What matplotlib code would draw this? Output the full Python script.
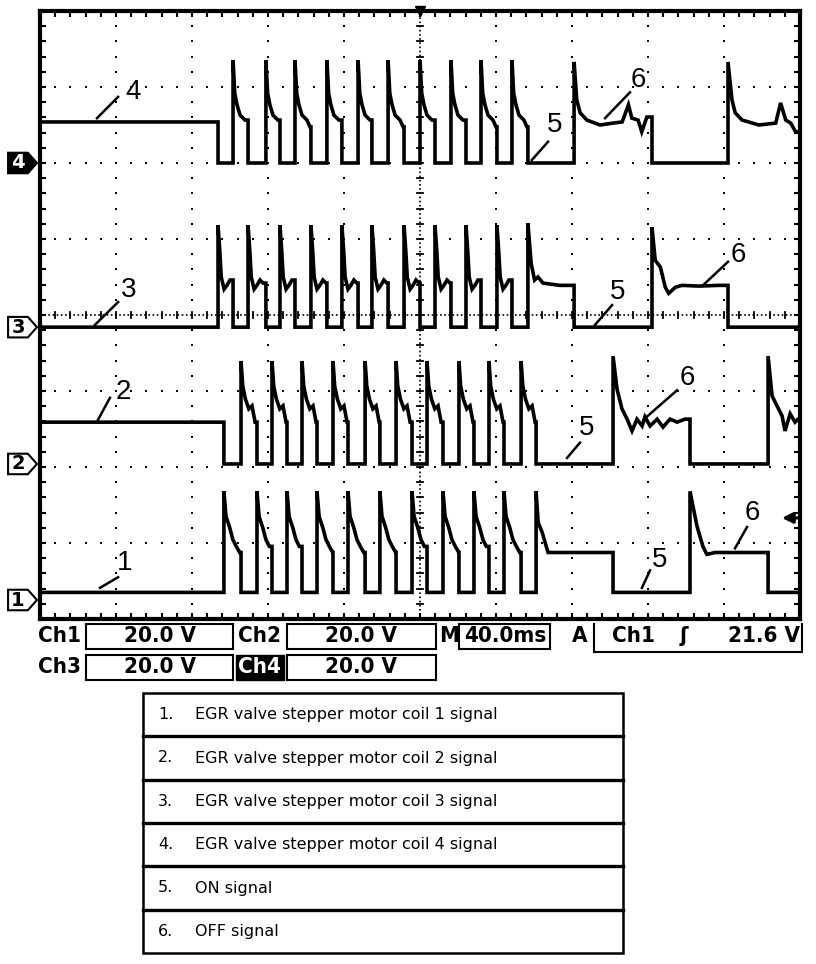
import matplotlib
matplotlib.use("Agg")
import matplotlib.pyplot as plt
from matplotlib.patches import Polygon, Rectangle
from matplotlib.transforms import blended_transform_factory

# scope settings: 40 ms/div over 10 div, 20 V/div over 8 div
MS_PER_DIV = 40.0
V_PER_DIV = 20.0

# edge times (ms); coils 3/4 and 1/2 switch in antiphase
coil34_edges = [93.7, 101.6, 109.5, 118.9, 126.3, 134.2, 142.6, 151.0, 158.9, 167.4,
                174.7, 183.2, 191.6, 200.0, 207.9, 216.3, 224.2, 232.1, 240.5, 248.4,
                256.8, 281.1, 322.1, 362.1]
coil12_edges = [96.8, 105.8, 114.2, 122.1, 130.0, 137.9, 145.8, 154.2, 162.1, 171.1,
                178.9, 187.4, 195.8, 203.7, 212.1, 220.5, 228.4, 236.3, 244.2, 253.2,
                261.1, 301.6, 342.1, 383.2]

# ground reference marker of every channel (divisions from bottom)
ground_div = {"1": 0.25, "2": 2.04, "3": 3.84, "4": 6.0}
low_volts = {"1": 2.0, "2": 0.0, "3": 0.0, "4": 0.0}
start_high = {"1": False, "2": True, "3": False, "4": True}
start_volts = {"1": 0.0, "2": 11.0, "3": 0.0, "4": 10.8}

# shape after a rising edge: (ms after edge, volts above low level)
pulse4 = [(0, 27.1), (0.9, 18.4), (2.1, 15.3), (3.7, 12.6), (6.3, 11.3), (7.9, 9.5)]
pulse3 = [(0, 26.8), (0.9, 20.3), (1.7, 13.2), (3.2, 10.0), (4.7, 11.0), (6.3, 12.4), (7.9, 11.6)]
pulse2 = [(0, 27.1), (0.9, 20.5), (2.3, 17.1), (4.1, 14.5), (5.8, 15.3), (7.4, 11.0)]
pulse1 = [(0, 26.6), (1.1, 20.0), (3.0, 17.1), (4.7, 13.9), (6.5, 12.1), (8.3, 10.5)]

off4_a = [(0, 26.6), (1.4, 16.6), (3.2, 13.2), (6.7, 11.3), (13.7, 10.0), (20.5, 10.5),
          (25.3, 10.8), (28.6, 15.3), (30.4, 11.8), (33.7, 11.3), (35.6, 8.2),
          (38.3, 12.1), (41.0, 11.3)]
off4_b = [(0, 26.6), (2.1, 16.6), (3.8, 13.2), (7.4, 11.3), (16.3, 10.0), (25.1, 10.5),
          (27.7, 15.8), (30.4, 11.3), (33.0, 10.5), (35.6, 8.2), (37.9, 8.9)]
hold3 = [(0, 27.4), (1.7, 16.8), (3.5, 12.4), (5.3, 13.2), (7.9, 11.6), (16.7, 11.0)]
off3 = [(0, 26.3), (1.7, 17.6), (4.4, 15.8), (7.0, 10.5), (8.8, 8.9), (12.3, 10.5),
        (15.8, 11.0), (24.6, 10.8), (35.1, 11.0)]
off2_a = [(0, 28.4), (2.1, 19.7), (4.7, 14.5), (7.4, 11.8), (10.0, 8.7), (12.6, 11.8),
          (15.3, 10.0), (16.8, 12.4), (19.5, 10.0), (23.2, 11.8), (26.3, 9.7),
          (30.0, 11.8), (33.7, 11.0), (37.9, 11.8), (40.5, 11.0)]
off2_b = [(0, 28.4), (2.1, 17.9), (4.7, 15.3), (7.4, 12.6), (8.9, 8.7), (11.6, 13.2),
          (14.2, 11.0), (15.8, 11.8)]
hold1 = [(0, 26.6), (1.1, 18.4), (3.2, 15.8), (4.7, 13.2), (6.3, 10.5), (40.5, 10.5)]
off1 = [(0, 26.6), (3.7, 17.4), (6.8, 12.1), (8.9, 10.0), (13.2, 10.5), (41.0, 10.5)]

shapes = {
    "4": [pulse4] * 10 + [off4_a, off4_b],
    "3": [pulse3] * 10 + [hold3, off3],
    "2": [pulse2] * 10 + [off2_a, off2_b],
    "1": [pulse1] * 10 + [hold1, off1],
}
edges = {"1": coil12_edges, "2": coil12_edges, "3": coil34_edges, "4": coil34_edges}

# (label, line from, line to, text pos) in ms / div
notes = [
    ("4", (30.0, 6.59), (41.1, 6.87), (48.9, 6.93)),
    ("3", (28.9, 3.87), (41.1, 4.17), (46.8, 4.33)),
    ("2", (30.5, 2.62), (36.8, 2.91), (43.7, 2.99)),
    ("1", (31.6, 0.41), (41.1, 0.55), (44.7, 0.74)),
    ("5", (258.9, 6.04), (267.4, 6.28), (271.1, 6.50)),
    ("6", (297.4, 6.59), (310.5, 6.93), (314.7, 7.09)),
    ("5", (292.1, 3.87), (301.1, 4.13), (304.2, 4.30)),
    ("6", (348.9, 4.39), (362.1, 4.70), (367.4, 4.79)),
    ("5", (277.4, 2.12), (284.2, 2.32), (287.9, 2.51)),
    ("6", (318.4, 2.64), (335.3, 3.01), (340.5, 3.17)),
    ("5", (316.8, 0.41), (321.1, 0.64), (326.3, 0.78)),
    ("6", (365.8, 0.93), (372.1, 1.21), (374.7, 1.39)),
]

legend_items = [
    "EGR valve stepper motor coil 1 signal",
    "EGR valve stepper motor coil 2 signal",
    "EGR valve stepper motor coil 3 signal",
    "EGR valve stepper motor coil 4 signal",
    "ON signal",
    "OFF signal",
]
trigger_volts = 21.6


def build_trace(ch):
    toggles = edges[ch]
    t, v = [0.0], [start_volts[ch]]
    high = start_high[ch]
    k = 0
    nxt_list = list(toggles[1:]) + [10 * MS_PER_DIV]
    for te, nxt in zip(toggles, nxt_list):
        if high:
            t += [te, te]
            v += [v[-1], 0.0]
        else:
            t.append(te)
            v.append(0.0)
            for dt, lv in shapes[ch][k]:
                if te + dt < nxt:
                    t.append(te + dt)
                    v.append(lv)
            k += 1
        high = not high
    t.append(10 * MS_PER_DIV)
    v.append(v[-1])
    y = [ground_div[ch] + (x + low_volts[ch]) / V_PER_DIV for x in v]
    return t, y


W, H = 816, 964
fig = plt.figure(figsize=(W / 100, H / 100), dpi=100)
L, R, T, B = 40, 800, 11, 619
ax = fig.add_axes([L / W, 1 - B / H, (R - L) / W, (B - T) / H])
ax.set_xlim(0, 10 * MS_PER_DIV)
ax.set_ylim(0, 8)
for s in ax.spines.values():
    s.set_linewidth(3)
ax.set_xticks([MS_PER_DIV * i for i in range(11)])
ax.set_yticks(range(9))
ax.set_xticks([MS_PER_DIV / 5 * i for i in range(51)], minor=True)
ax.set_yticks([0.2 * i for i in range(41)], minor=True)
ax.tick_params(which="both", direction="in", length=4, width=1.5,
               top=True, right=True, labelbottom=False, labelleft=False)

# dotted graticule
gx, gy = [], []
for i in range(1, 10):
    if i == 5:
        continue
    for j in range(1, 40):
        gx.append(i * MS_PER_DIV)
        gy.append(0.2 * j)
for i in range(1, 8):
    if i == 4:
        continue
    for j in range(1, 50):
        gx.append(j * MS_PER_DIV / 5)
        gy.append(i)
ax.plot(gx, gy, "s", color="black", markersize=1.8, markeredgewidth=0, zorder=1)

# centre cross with fine ticks
ax.plot([200, 200], [0, 8], color="black", lw=1.2, ls=(0, (1, 1.5)), zorder=1)
ax.plot([0, 400], [4, 4], color="black", lw=1.2, ls=(0, (1, 1.5)), zorder=1)
for j in range(1, 40):
    ax.plot([198.4, 201.6], [0.2 * j, 0.2 * j], color="black", lw=1.3, zorder=1)
for j in range(1, 50):
    ax.plot([8 * j, 8 * j], [3.96, 4.04], color="black", lw=1.3, zorder=1)

for ch in ["1", "2", "3", "4"]:
    t, y = build_trace(ch)
    ax.plot(t, y, color="black", lw=2.6, solid_joinstyle="miter", zorder=3)

for lab, p0, p1, pt in notes:
    ax.plot([p0[0], p1[0]], [p0[1], p1[1]], color="black", lw=1.8, zorder=4)
    ax.text(pt[0], pt[1], lab, fontsize=20, family="Liberation Sans",
            ha="center", va="center", zorder=4)

# trigger position and level
ax.plot([200], [8], marker="v", color="black", markersize=7, clip_on=False, zorder=5)
ty = ground_div["1"] + trigger_volts / V_PER_DIV
ax.annotate("", xy=(390.5, ty), xytext=(400, ty),
            arrowprops=dict(arrowstyle="-|>", lw=2.2, color="black", mutation_scale=16,
                            shrinkA=0, shrinkB=0), zorder=5)

# channel ground markers on the left
bt = blended_transform_factory(ax.transAxes, ax.transData)
for ch, g in ground_div.items():
    hh = 0.135
    pts = [(-0.042, g - hh), (-0.016, g - hh), (-0.004, g), (-0.016, g + hh), (-0.042, g + hh)]
    inv = ch == "4"
    ax.add_patch(Polygon(pts, closed=True, transform=bt, clip_on=False,
                         facecolor="black" if inv else "white", edgecolor="black", lw=1.5))
    ax.text(-0.029, g, ch, transform=bt, ha="center", va="center", fontsize=14,
            fontweight="bold", color="white" if inv else "black", clip_on=False)

# overlay in pixel coordinates for status bar and legend table
ov = fig.add_axes([0, 0, 1, 1], zorder=-1)
ov.set_xlim(0, W)
ov.set_ylim(H, 0)
ov.axis("off")

sfont = dict(family=["DejaVu Sans"], fontweight="bold", fontstretch="condensed", fontsize=16)


def box(x0, x1, y0, y1, sides="lrtb"):
    if "l" in sides:
        ov.plot([x0, x0], [y0, y1], color="black", lw=1.5)
    if "r" in sides:
        ov.plot([x1, x1], [y0, y1], color="black", lw=1.5)
    if "t" in sides:
        ov.plot([x0, x1], [y0, y0], color="black", lw=1.5)
    if "b" in sides:
        ov.plot([x0, x1], [y1, y1], color="black", lw=1.5)


r1, r2 = 636, 667
ov.text(38, r1, "Ch1", ha="left", va="center", **sfont)
box(86, 233, 624, 649)
ov.text(160, r1, "20.0 V", ha="center", va="center", **sfont)
ov.text(238, r1, "Ch2", ha="left", va="center", **sfont)
box(287, 436, 624, 649)
ov.text(361, r1, "20.0 V", ha="center", va="center", **sfont)
ov.text(439, r1, "M", ha="left", va="center", **sfont)
box(459, 550, 624, 649)
ov.text(505, r1, "40.0ms", ha="center", va="center", **sfont)
ov.text(572, r1, "A", ha="left", va="center", **sfont)
box(594, 802, 624, 652, sides="lrb")
ov.text(612, r1, "Ch1", ha="left", va="center", **sfont)
ov.text(684, r1, "\u0283", ha="center", va="center", **sfont)
ov.text(800, r1, "%.1f V" % trigger_volts, ha="right", va="center", **sfont)

ov.text(38, r2, "Ch3", ha="left", va="center", **sfont)
box(86, 233, 655, 680)
ov.text(160, r2, "20.0 V", ha="center", va="center", **sfont)
ov.add_patch(Rectangle((236, 655), 48, 25, facecolor="black", edgecolor="black"))
ov.text(238, r2, "Ch4", ha="left", va="center", color="white", **sfont)
box(287, 436, 655, 680)
ov.text(361, r2, "20.0 V", ha="center", va="center", **sfont)

# legend table
tx0, tx1, ty0, ty1 = 143, 623, 693, 953
ov.add_patch(Rectangle((tx0, ty0), tx1 - tx0, ty1 - ty0, fill=False, edgecolor="black", lw=1.8))
rh = (ty1 - ty0) / len(legend_items)
for i, item in enumerate(legend_items):
    yc = ty0 + rh * (i + 0.5)
    if i > 0:
        ov.plot([tx0, tx1], [ty0 + rh * i] * 2, color="black", lw=2.4)
    ov.text(158, yc, "%d." % (i + 1), ha="left", va="center", fontsize=11.5, family="DejaVu Sans")
    ov.text(195, yc, item, ha="left", va="center", fontsize=11.5, family="DejaVu Sans")

fig.savefig("out.png", dpi=100, facecolor="white")
